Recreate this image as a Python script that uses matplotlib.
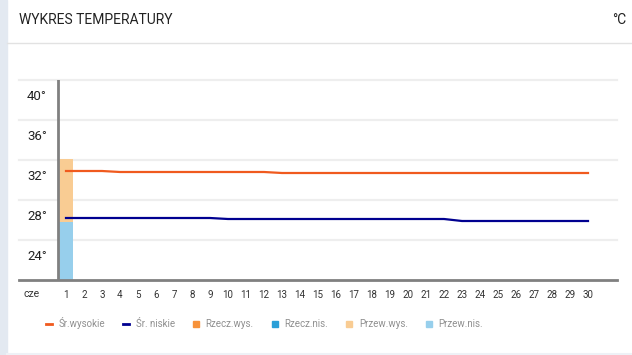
import matplotlib
matplotlib.use("Agg")
import matplotlib.pyplot as plt
from matplotlib.lines import Line2D
from matplotlib.patches import Rectangle
import matplotlib.transforms as mtransforms

plt.rcParams['font.family'] = ['Roboto', 'DejaVu Sans']

days = list(range(1, 31))
day_labels = [str(d) for d in days]
sr_wysokie = [32.9, 32.9, 32.9, 32.8, 32.8, 32.8, 32.8, 32.8, 32.8, 32.8,
              32.8, 32.8, 32.7, 32.7, 32.7, 32.7, 32.7, 32.7, 32.7, 32.7,
              32.7, 32.7, 32.7, 32.7, 32.7, 32.7, 32.7, 32.7, 32.7, 32.7]
sr_niskie = [28.2, 28.2, 28.2, 28.2, 28.2, 28.2, 28.2, 28.2, 28.2, 28.1,
             28.1, 28.1, 28.1, 28.1, 28.1, 28.1, 28.1, 28.1, 28.1, 28.1,
             28.1, 28.1, 27.9, 27.9, 27.9, 27.9, 27.9, 27.9, 27.9, 27.9]
przew_days = [1]
przew_wys = [34.1]
przew_nis = [27.8]
y_labels = [40, 36, 32, 28, 24]
grid_vals = [26, 30, 34, 38, 42]
month_label = 'cze'

c_high = '#f05a1e'
c_low = '#000090'
c_rzecz_wys = '#f7923a'
c_rzecz_nis = '#2a9fd8'
c_przew_wys = '#f9cc93'
c_przew_nis = '#97cfec'

W, H = 632, 355
fig = plt.figure(figsize=(W / 100, H / 100), dpi=100)
fig.patch.set_facecolor('white')

# left strip and separators
fig.patches.append(Rectangle((0, 0), 7 / W, 1, transform=fig.transFigure,
                             color='#e3e9f1', zorder=0))
fig.lines.append(Line2D([7 / W, 1], [1 - 43 / H, 1 - 43 / H], transform=fig.transFigure,
                        color='#e2e2e2', lw=1))
fig.lines.append(Line2D([7 / W, 1], [1 - 354 / H, 1 - 354 / H], transform=fig.transFigure,
                        color='#eef1f6', lw=1.5))

fig.text(19 / W, 1 - 20 / H, 'WYKRES TEMPERATURY', fontsize=10, color='#222222',
         va='center', ha='left')
fig.text(626 / W, 1 - 20 / H, '°C', fontsize=10, color='#222222', va='center', ha='right')

ax = fig.add_axes([19 / W, 1 - 280 / H, 598 / W, 200 / H])
ax.set_facecolor('none')
ax.set_xlim(-1.611, 31.611)
ax.set_ylim(22, 42)

for g in grid_vals:
    ax.axhline(g, color='#eeeeee', lw=1.6, zorder=0, clip_on=False)

ax.bar(przew_days, przew_wys, width=0.78, color=c_przew_wys, zorder=1)
ax.bar(przew_days, przew_nis, width=0.78, color=c_przew_nis, zorder=2)

ax.plot(days, sr_wysokie, color=c_high, lw=1.6, zorder=3)
ax.plot(days, sr_niskie, color=c_low, lw=1.6, zorder=3)

ax.axvline(0.556, color='#808080', lw=2, zorder=4)

for s in ['top', 'right', 'left']:
    ax.spines[s].set_visible(False)
ax.spines['bottom'].set_color('#808080')
ax.spines['bottom'].set_linewidth(2)

ax.set_yticks([])
ax.set_xticks(days)
ax.set_xticklabels(day_labels, fontsize=7, color='#333333')
ax.tick_params(axis='x', length=0, pad=7.5)

for v in y_labels:
    ax.text(-0.056, v, f'{v}°', ha='right', va='baseline', fontsize=9.5, color='#222222')

trans = mtransforms.blended_transform_factory(ax.transData, ax.transAxes)
ax.text(-0.94, -0.068, month_label, ha='center', va='center', fontsize=7.5,
        color='#333333', transform=trans)

handles = [
    Line2D([0], [0], color=c_high, lw=2),
    Line2D([0], [0], color=c_low, lw=2),
    Line2D([0], [0], color=c_rzecz_wys, marker='s', ls='none', markersize=5),
    Line2D([0], [0], color=c_rzecz_nis, marker='s', ls='none', markersize=5),
    Line2D([0], [0], color=c_przew_wys, marker='s', ls='none', markersize=5),
    Line2D([0], [0], color=c_przew_nis, marker='s', ls='none', markersize=5),
]
labels = ['Śr.wysokie', 'Śr. niskie', 'Rzecz.wys.', 'Rzecz.nis.', 'Przew.wys.', 'Przew.nis.']
fig.legend(handles, labels, loc='center left', bbox_to_anchor=(46 / W, 1 - 323 / H),
           ncol=6, frameon=False, fontsize=7, labelcolor='#909090',
           handlelength=0.6, handletextpad=0.7, columnspacing=1.85, borderaxespad=0,
           borderpad=0)

fig.savefig('out.png', dpi=100)
